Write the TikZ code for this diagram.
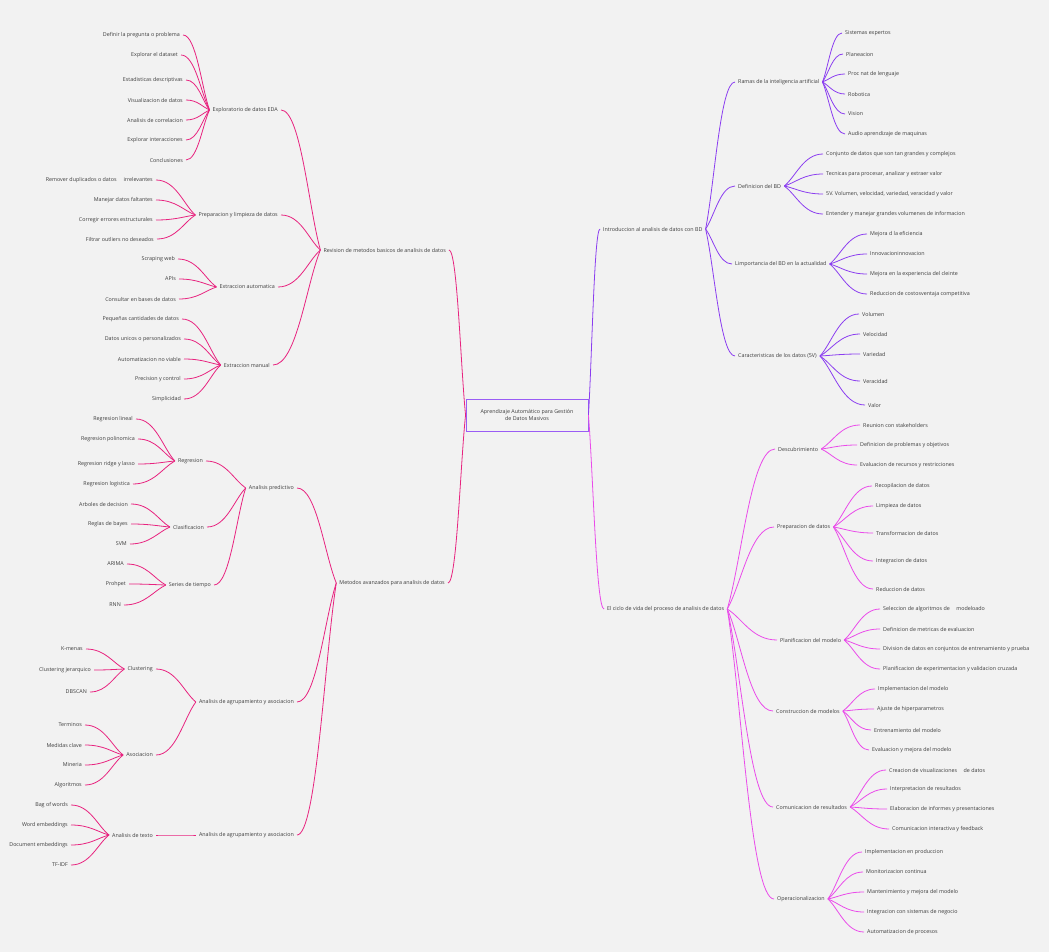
\documentclass[tikz,border=0pt]{standalone}
\usepackage{fontspec}
\setmainfont{Open Sans}
\usetikzlibrary{calc}

\definecolor{bgcol}{HTML}{F2F2F2}
\definecolor{pinkcol}{HTML}{E8237F}
\definecolor{violetcol}{HTML}{8B3DF0}
\definecolor{orchidcol}{HTML}{EA4BEA}
\definecolor{boxcol}{HTML}{9A5CF5}
\definecolor{txtcol}{HTML}{3C3C3C}

\tikzset{
  txt/.style={font=\fontsize{5.35}{6.8}\selectfont, text=txtcol, inner xsep=3pt, inner ysep=1pt},
  lnode/.style={txt, anchor=east},
  rnode/.style={txt, anchor=west},
  branch/.style={to path={.. controls ($(\tikztostart)!0.3!(\tikztotarget)$) and ($(\tikztotarget)!0.5!(\tikztostart |- \tikztotarget)$) .. (\tikztotarget)}},
  pinkline/.style={draw=pinkcol, line width=0.8pt},
  violetline/.style={draw=violetcol, line width=0.8pt},
  orchidline/.style={draw=orchidcol, line width=0.8pt}
}

\begin{document}
\begin{tikzpicture}[x=1pt,y=-1pt]
\useasboundingbox (0,0) rectangle (1049,952);
\fill[bgcol] (0,0) rectangle (1049,952);

% Central topic
\node[txt, draw=boxcol, line width=0.9pt, minimum width=122pt, minimum height=32pt, align=center] (root) at (527,415) {Aprendizaje Automático para Gestión\\de Datos Masivos};

% Left side, main branches
\node[lnode] (rev) at (449,250) {Revision de metodos basicos de analisis de datos};
\node[lnode] (met) at (448,583) {Metodos avanzados para analisis de datos};
\draw[pinkline] (root.west) to[branch] (rev.east);
\draw[pinkline] (root.west) to[branch] (met.east);

\node[lnode] (eda) at (281,110) {Exploratorio de datos EDA};
\node[lnode] (prep) at (281,215) {Preparacion y limpieza de datos};
\node[lnode] (exta) at (278,287) {Extraccion automatica};
\node[lnode] (extm) at (273,365) {Extraccion manual};
\foreach \n in {eda,prep,exta,extm}
    \draw[pinkline] (rev.west) to[branch] (\n.east);

\node[lnode] (pred) at (297,488) {Analisis predictivo};
\node[lnode] (agr) at (297,702) {Analisis de agrupamiento y asociacion};
\node[lnode] (agrb) at (297,835) {Analisis de agrupamiento y asociacion};
\foreach \n in {pred,agr,agrb}
    \draw[pinkline] (met.west) to[branch] (\n.east);

\node[lnode] (reg) at (206,461) {Regresion};
\node[lnode] (clas) at (207,527) {Clasificacion};
\node[lnode] (ser) at (214,585) {Series de tiempo};
\foreach \n in {reg,clas,ser}
    \draw[pinkline] (pred.west) to[branch] (\n.east);

\node[lnode] (clu) at (156,669) {Clustering};
\node[lnode] (aso) at (156,755) {Asociacion};
\node[lnode] (txt) at (156,835) {Analisis de texto};
\draw[pinkline] (agr.west) to[branch] (clu.east);
\draw[pinkline] (agr.west) to[branch] (aso.east);
\draw[pinkline] (agrb.west) to[branch] (txt.east);

% Left leaves
\foreach \x/\y/\t [count=\i] in {183/35/Definir la pregunta o problema,
    181/55/Explorar el dataset,
    186/80/Estadisticas descriptivas,
    186/100/Visualizacion de datos,
    186/120/Analisis de correlacion,
    186/140/Explorar interacciones,
    186/160/Conclusiones}
{
    \node[lnode] (eda\i) at (\x,\y) {\t};
    \draw[pinkline] (eda.west) to[branch] (eda\i.east);
}
\foreach \x/\y/\t [count=\i] in {156/180/{Remover duplicados o datos\hspace{7pt}irrelevantes},
    156/200/Manejar datos faltantes,
    156/220/Corregir errores estructurales,
    157/239/Filtrar outliers no deseados}
{
    \node[lnode] (prep\i) at (\x,\y) {\t};
    \draw[pinkline] (prep.west) to[branch] (prep\i.east);
}
\foreach \x/\y/\t [count=\i] in {178/259/Scraping web,
    179/279/APIs,
    179/299/Consultar en bases de datos}
{
    \node[lnode] (exta\i) at (\x,\y) {\t};
    \draw[pinkline] (exta.west) to[branch] (exta\i.east);
}
\foreach \x/\y/\t [count=\i] in {182/319/Pequeñas cantidades de datos,
    184/339/Datos unicos o personalizados,
    184/359/Automatizacion no viable,
    184/379/Precision y control,
    184/399/Simplicidad}
{
    \node[lnode] (extm\i) at (\x,\y) {\t};
    \draw[pinkline] (extm.west) to[branch] (extm\i.east);
}
\foreach \x/\y/\t [count=\i] in {136/419/Regresion lineal,
    138/439/Regresion polinomica,
    138/464/Regresion ridge y lasso,
    133/484/Regresion logistica}
{
    \node[lnode] (reg\i) at (\x,\y) {\t};
    \draw[pinkline] (reg.west) to[branch] (reg\i.east);
}
\foreach \x/\y/\t [count=\i] in {131/504/Arboles de decision,
    131/524/Reglas de bayes,
    130/544/SVM}
{
    \node[lnode] (clas\i) at (\x,\y) {\t};
    \draw[pinkline] (clas.west) to[branch] (clas\i.east);
}
\foreach \x/\y/\t [count=\i] in {127/564/ARIMA,
    129/584/Prohpet,
    124/605/RNN}
{
    \node[lnode] (ser\i) at (\x,\y) {\t};
    \draw[pinkline] (ser.west) to[branch] (ser\i.east);
}
\foreach \x/\y/\t [count=\i] in {86/649/K-menas,
    94/670/Clustering jerarquico,
    90/692/DBSCAN}
{
    \node[lnode] (clu\i) at (\x,\y) {\t};
    \draw[pinkline] (clu.west) to[branch] (clu\i.east);
}
\foreach \x/\y/\t [count=\i] in {85/725/Terminos,
    85/745/Medidas clave,
    85/765/Mineria,
    85/785/Algoritmos}
{
    \node[lnode] (aso\i) at (\x,\y) {\t};
    \draw[pinkline] (aso.west) to[branch] (aso\i.east);
}
\foreach \x/\y/\t [count=\i] in {71/805/Bag of words,
    71/825/Word embeddings,
    71/845/Document embeddings,
    71/865/TF-IDF}
{
    \node[lnode] (txt\i) at (\x,\y) {\t};
    \draw[pinkline] (txt.west) to[branch] (txt\i.east);
}

% Right side, main branches
\node[rnode] (intro) at (600,229) {Introduccion al analisis de datos con BD};
\node[rnode] (ciclo) at (604,609) {El ciclo de vida del proceso de analisis de datos};
\draw[violetline] (root.east) to[branch] (intro.west);
\draw[orchidline] (root.east) to[branch] (ciclo.west);

\node[rnode] (ramas) at (735,82) {Ramas de la inteligencia artificial};
\node[rnode] (defbd) at (735,186) {Definicion del BD};
\node[rnode] (imp) at (732,264) {Limportancia del BD en la actualidad};
\node[rnode] (car) at (735,356) {Caracteristicas de los datos (5V)};
\foreach \n in {ramas,defbd,imp,car}
    \draw[violetline] (intro.east) to[branch] (\n.west);

\node[rnode] (desc) at (775,449) {Descubrimiento};
\node[rnode] (prepd) at (774,527) {Preparacion de datos};
\node[rnode] (plan) at (777,640) {Planificacion del modelo};
\node[rnode] (cons) at (773,711) {Construccion de modelos};
\node[rnode] (com) at (773,807) {Comunicacion de resultados};
\node[rnode] (oper) at (774,899) {Operacionalizacion};
\foreach \n in {desc,prepd,plan,cons,com,oper}
    \draw[orchidline] (ciclo.east) to[branch] (\n.west);

% Right leaves
\foreach \x/\y/\t [count=\i] in {842/33/Sistemas expertos,
    843/54/Planeacion,
    845/74/Proc nat de lenguaje,
    845/94/Robotica,
    845/114/Vision,
    845/134/Audio aprendizaje de maquinas}
{
    \node[rnode] (ramas\i) at (\x,\y) {\t};
    \draw[violetline] (ramas.east) to[branch] (ramas\i.west);
}
\foreach \x/\y/\t [count=\i] in {823/154/Conjunto de datos que son tan grandes y complejos,
    823/174/{Tecnicas para procesar, analizar y extraer valor},
    823/194/{5V. Volumen, velocidad, variedad, veracidad y valor},
    823/214/Entender y manejar grandes volumenes de informacion}
{
    \node[rnode] (defbd\i) at (\x,\y) {\t};
    \draw[violetline] (defbd.east) to[branch] (defbd\i.west);
}
\foreach \x/\y/\t [count=\i] in {867/234/Mejora d la eficiencia,
    867/254/Innovacioninnovacion,
    867/274/Mejora en la experiencia del cleinte,
    867/294/Reduccion de costosventaja competitiva}
{
    \node[rnode] (imp\i) at (\x,\y) {\t};
    \draw[violetline] (imp.east) to[branch] (imp\i.west);
}
\foreach \x/\y/\t [count=\i] in {859/314/Volumen,
    860/334/Velocidad,
    860/354/Variedad,
    860/381/Veracidad,
    865/405/Valor}
{
    \node[rnode] (car\i) at (\x,\y) {\t};
    \draw[violetline] (car.east) to[branch] (car\i.west);
}
\foreach \x/\y/\t [count=\i] in {860/425/Reunion con stakeholders,
    857/445/Definicion de problemas y objetivos,
    857/465/Evaluacion de recursos y restricciones}
{
    \node[rnode] (desc\i) at (\x,\y) {\t};
    \draw[orchidline] (desc.east) to[branch] (desc\i.west);
}
\foreach \x/\y/\t [count=\i] in {872/486/Recopilacion de datos,
    873/506/Limpieza de datos,
    873/533/Transformacion de datos,
    873/561/Integracion de datos,
    873/589/Reduccion de datos}
{
    \node[rnode] (prepd\i) at (\x,\y) {\t};
    \draw[orchidline] (prepd.east) to[branch] (prepd\i.west);
}
\foreach \x/\y/\t [count=\i] in {880/609/{Seleccion de algoritmos de\hspace{6.5pt}modeloado},
    880/629/Definicion de metricas de evaluacion,
    880/649/Division de datos en conjuntos de entrenamiento y prueba,
    880/669/Planificacion de experimentacion y validacion cruzada}
{
    \node[rnode] (plan\i) at (\x,\y) {\t};
    \draw[orchidline] (plan.east) to[branch] (plan\i.west);
}
\foreach \x/\y/\t [count=\i] in {875/689/Implementacion del modelo,
    874/709/Ajuste de hiperparametros,
    871/730/Entrenamiento del modelo,
    869/750/Evaluacion y mejora del modelo}
{
    \node[rnode] (cons\i) at (\x,\y) {\t};
    \draw[orchidline] (cons.east) to[branch] (cons\i.west);
}
\foreach \x/\y/\t [count=\i] in {886/770/{Creacion de visualizaciones\hspace{6.5pt}de datos},
    887/789/Interpretacion de resultados,
    887/809/Elaboracion de informes y presentaciones,
    889/829/Comunicacion interactiva y feedback}
{
    \node[rnode] (com\i) at (\x,\y) {\t};
    \draw[orchidline] (com.east) to[branch] (com\i.west);
}
\foreach \x/\y/\t [count=\i] in {862/852/Implementacion en produccion,
    863/872/Monitorizacion continua,
    864/892/Mantenimiento y mejora del modelo,
    864/912/Integracion con sistemas de negocio,
    864/932/Automatizacion de procesos}
{
    \node[rnode] (oper\i) at (\x,\y) {\t};
    \draw[orchidline] (oper.east) to[branch] (oper\i.west);
}
\end{tikzpicture}
\end{document}
